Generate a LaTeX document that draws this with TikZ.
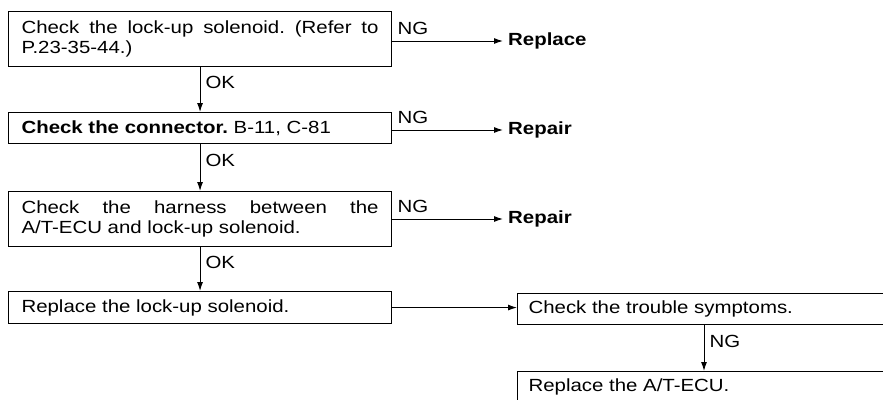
\documentclass[tikz,border=0pt]{standalone}
\usepackage{fontspec}
\setmainfont{Liberation Sans}[FakeStretch=1.16]
\usetikzlibrary{arrows.meta}

\newcommand{\stepfont}{\fontsize{17.6}{20}\selectfont\frenchspacing}

\tikzset{
    stepbox/.style={draw, line width=1.1pt, anchor=north west, text width=357pt,
        inner xsep=13pt, inner ysep=0pt, align=justify, font=\stepfont},
    sidebox/.style={stepbox, text width=380pt, inner xsep=11pt, minimum height=31pt},
    result/.style={anchor=west, inner xsep=5pt, font=\stepfont\bfseries},
    flow/.style={line width=1pt, -{Latex[length=9pt,width=6pt]}},
    tag/.style={inner xsep=5pt, inner ysep=6pt, font=\stepfont}
}

\begin{document}
\begin{tikzpicture}[x=1pt, y=-1pt]
    \clip (0,0) rectangle (883,399);

    % Steps on the left
    \node[stepbox, minimum height=55pt] (lockup) at (8,11)
        {Check the lock-up solenoid. (Refer to\linebreak P.23-35-44.)};
    \node[stepbox, minimum height=31pt] (conn) at (8,112)
        {\textbf{Check the connector.} B-11, C-81};
    \node[stepbox, minimum height=55pt] (harness) at (8,191)
        {Check the harness between the\linebreak A/T-ECU and lock-up solenoid.};
    \node[stepbox, minimum height=32pt] (fixsol) at (8,291)
        {Replace the lock-up solenoid.};

    % Steps on the right (run off the page)
    \node[sidebox] (symptoms) at (517,293) {Check the trouble symptoms.};
    \node[sidebox] (ecu) at (517,371) {Replace the A/T-ECU.};

    % NG results
    \node[result] (replace) at (503,41) {Replace};
    \node[result] (repair1) at (503,130) {Repair};
    \node[result] (repair2) at (503,219) {Repair};

    % OK arrows
    \draw[flow] (lockup.south) -- (conn.north) node[pos=0.35, right, tag] {OK};
    \draw[flow] (conn.south) -- (harness.north) node[pos=0.35, right, tag] {OK};
    \draw[flow] (harness.south) -- (fixsol.north) node[pos=0.35, right, tag] {OK};

    % NG arrows
    \draw[flow] (lockup.east |- replace.west) -- (replace.west)
        node[pos=0, above right, tag] {NG};
    \draw[flow] (conn.east |- repair1.west) -- (repair1.west)
        node[pos=0, above right, tag] {NG};
    \draw[flow] (harness.east |- repair2.west) -- (repair2.west)
        node[pos=0, above right, tag] {NG};

    % After replacing
    \draw[flow] (fixsol.east) -- (fixsol.east -| symptoms.west);
    \draw[flow] ([xshift=187pt]symptoms.south west) -- ([xshift=187pt]ecu.north west)
        node[pos=0.35, right, tag] {NG};
\end{tikzpicture}
\end{document}
